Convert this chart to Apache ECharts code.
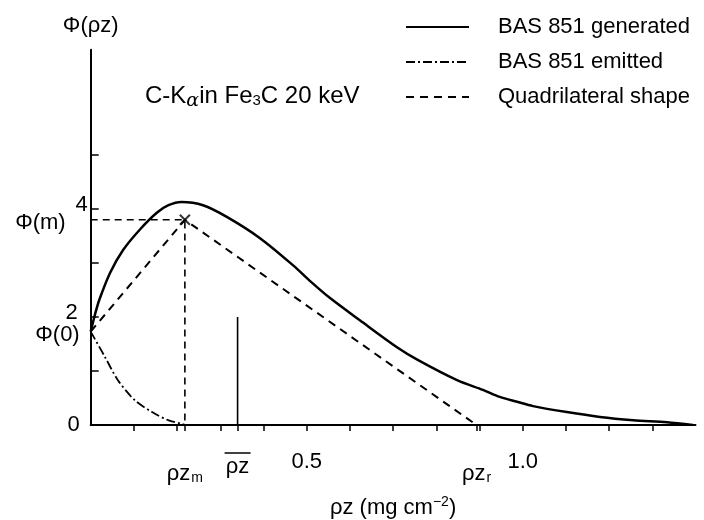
<!DOCTYPE html>
<html><head><meta charset="utf-8">
<script src="https://cdn.jsdelivr.net/npm/echarts@6/dist/echarts.min.js"></script>
<style>html,body{margin:0;padding:0;background:#fff}#c{width:704px;height:520px}</style>
</head><body><div id="c"></div>
<script>
// generated phi(rho z) curve (BAS 851)
const genX = [0, 0.01, 0.02, 0.045, 0.075, 0.114, 0.153, 0.18, 0.21, 0.26, 0.316, 0.392, 0.468, 0.51, 0.554, 0.623, 0.709, 0.758, 0.848, 0.908, 0.947, 0.987, 1.024, 1.102, 1.179, 1.256, 1.334, 1.394];
const genY = [1.73, 2.05, 2.32, 2.82, 3.24, 3.62, 3.93, 4.07, 4.13, 4.07, 3.85, 3.46, 2.96, 2.65, 2.35, 1.94, 1.44, 1.2, 0.83, 0.65, 0.52, 0.43, 0.35, 0.24, 0.15, 0.09, 0.05, 0.0];
// emitted curve
const emiX = [0, 0.033, 0.063, 0.102, 0.142, 0.179, 0.212, 0.22];
const emiY = [1.73, 1.26, 0.83, 0.46, 0.24, 0.09, 0.02, 0];
// quadrilateral shape
const phi0 = 1.73, phiM = 3.8, rzM = 0.218, rzR = 0.893, rzBar = 0.34, rzBarH = 2.0;
const quadX = [0, rzM, rzR];
const quadY = [phi0, phiM, 0];
// ticks
const xTicks = [0.1, 0.2, 0.3, 0.4, 0.5, 0.6, 0.7, 0.8, 0.9, 1.0, 1.1, 1.2, 1.3];
const yTicks = [1, 2, 3, 4, 5];
const seriesNames = ['BAS 851 generated', 'BAS 851 emitted', 'Quadrilateral shape'];

const zip = (xs, ys) => xs.map((x, i) => [x, ys[i]]);
const F = 'Liberation Sans, Arial, sans-serif';
const FS = 22;
const chart = echarts.init(document.getElementById('c'), null, {renderer: 'canvas'});
chart.setOption({
  animation: false,
  backgroundColor: '#fff',
  textStyle: {fontFamily: F, color: '#000'},
  grid: {left: 90.7, right: 8.5, top: 49.7, bottom: 95, containLabel: false, outerBoundsMode: 'none'},
  legend: {
    orient: 'vertical', left: 405, top: 16, padding: 0, itemWidth: 63, itemHeight: 14, itemGap: 13,
    data: seriesNames,
    itemStyle: {opacity: 0},
    textStyle: {fontSize: FS, color: '#000', fontFamily: F, padding: [0, 0, 0, 24]}
  },
  xAxis: {
    type: 'value', min: 0, max: 1.4,
    name: '{t|ρz (mg cm}{sup|−2}{t|)}', nameLocation: 'middle', nameGap: 70,
    nameTextStyle: {rich: {t: {fontSize: FS, fontFamily: F}, sup: {fontSize: 14, fontFamily: F, padding: [0, 0, 12, 0]}}},
    splitLine: {show: false},
    axisLine: {lineStyle: {color: '#000', width: 2}},
    axisTick: {inside: false, length: 6, lineStyle: {color: '#000', width: 1.5}, customValues: xTicks.concat([rzM, rzBar, rzR])},
    axisLabel: {
      margin: 26, customValues: [rzM, rzBar, 0.5, rzR, 1.0],
      formatter: v => {
        if (Math.abs(v - rzM) < 1e-6) return '{r|ρz}{s|m}';
        if (Math.abs(v - rzBar) < 1e-6) return '{o| }\n{rb|ρz}';
        if (Math.abs(v - rzR) < 1e-6) return '{r|ρz}{s|r}';
        return '{n|' + v.toFixed(1) + '}';
      },
      rich: {
        n: {fontSize: FS, fontFamily: F, color: '#000'},
        r: {fontSize: FS, fontFamily: F, color: '#000', padding: [12, 0, 0, 0]},
        rb: {fontSize: FS, fontFamily: F, color: '#000', lineHeight: 24},
        o: {fontSize: 1, width: 26, height: 1.5, lineHeight: 4, backgroundColor: '#000'},
        s: {fontSize: 14, fontFamily: F, color: '#000', padding: [20, 0, 0, 1]}
      }
    }
  },
  yAxis: {
    type: 'value', min: 0, max: 6.95,
    name: 'Φ(ρz)', nameLocation: 'end', nameGap: 13,
    nameTextStyle: {fontSize: FS, fontFamily: F, color: '#000', align: 'center'},
    splitLine: {show: false},
    axisLine: {lineStyle: {color: '#000', width: 2}},
    axisTick: {inside: true, length: 8, lineStyle: {color: '#000', width: 1.5}, customValues: yTicks},
    axisLabel: {
      margin: 3, customValues: [0, phi0, 2, phiM, 4],
      formatter: v => {
        if (Math.abs(v - phi0) < 1e-6) return '{p0|Φ(0)}';
        if (Math.abs(v - phiM) < 1e-6) return '{pm|Φ(m)}';
        if (v === 0) return '{z|0}';
        if (v === 2) return '{two|2}';
        return '{four|4}';
      },
      rich: {
        z: {fontSize: FS, fontFamily: F, color: '#000', padding: [0, 8, 0, 0]},
        p0: {fontSize: FS, fontFamily: F, color: '#000', padding: [7, 8, 0, 0]},
        two: {fontSize: FS, fontFamily: F, color: '#000', padding: [0, 10, 8, 0]},
        pm: {fontSize: FS, fontFamily: F, color: '#000', padding: [6, 22, 0, 0]},
        four: {fontSize: FS, fontFamily: F, color: '#000', padding: [0, 0, 8, 0]}
      }
    }
  },
  graphic: [{
    type: 'text', left: 145, top: 84,
    style: {
      text: '{a|C-K}{g|α}{a|in Fe}{s|3}{a|C 20 keV}',
      rich: {
        a: {fontSize: 24, fontFamily: F, fill: '#000'},
        g: {fontSize: 19, fontFamily: 'DejaVu Serif, serif', fontStyle: 'italic', fill: '#000', padding: [10, 0, 0, 0]},
        s: {fontSize: 15, fontFamily: F, fill: '#000', padding: [10, 0, 0, 0]}
      }
    }
  }],
  series: [
    {name: seriesNames[0], type: 'line', data: zip(genX, genY), smooth: 0.3, symbol: 'none',
     lineStyle: {color: '#000', width: 2.5}, itemStyle: {color: '#000'}},
    {name: seriesNames[1], type: 'line', data: zip(emiX, emiY), smooth: 0.3, symbol: 'none',
     lineStyle: {color: '#000', width: 1.8, type: [9, 3, 2, 3]}, itemStyle: {color: '#000'}},
    {name: seriesNames[2], type: 'line', data: zip(quadX, quadY), symbol: 'none',
     lineStyle: {color: '#000', width: 2, type: [8, 6]}, itemStyle: {color: '#000'}},
    {name: 'guides', type: 'line', data: [[0, phiM], [rzM, phiM], [rzM, 0]], symbol: 'none',
     lineStyle: {color: '#000', width: 1.6, type: [7, 5]}},
    {name: 'peak', type: 'scatter', data: [[rzM, phiM]],
     symbol: 'path://M0,0L10,10M10,0L0,10', symbolSize: 10,
     itemStyle: {color: 'none', borderColor: '#000', borderWidth: 2}},
    {name: 'mean', type: 'line', data: [[rzBar, 0], [rzBar, rzBarH]], symbol: 'none',
     lineStyle: {color: '#000', width: 1.6}}
  ]
});
</script></body></html>
